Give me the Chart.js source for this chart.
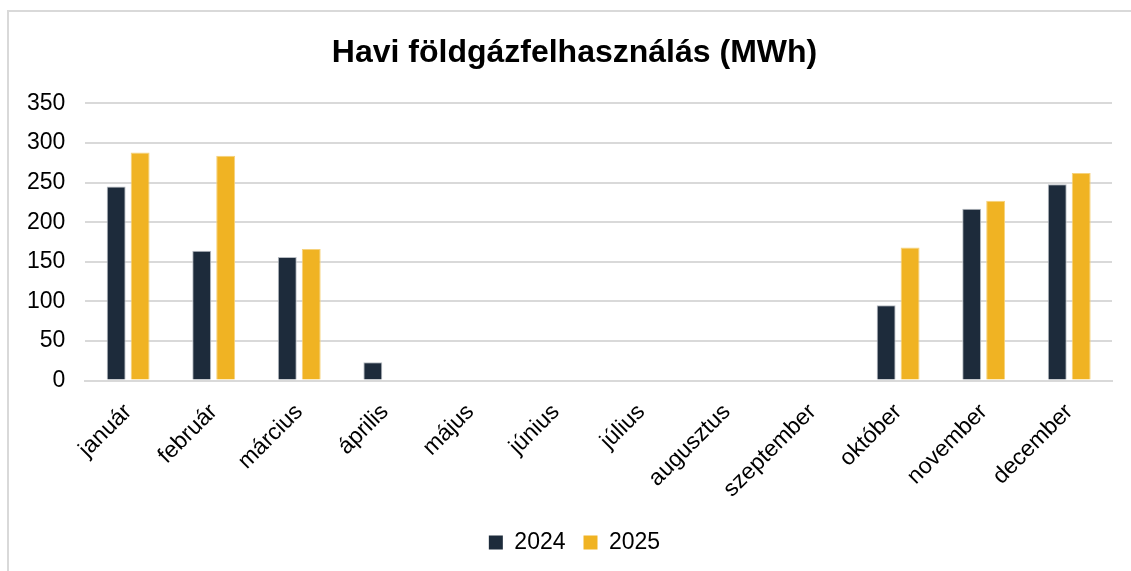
<!DOCTYPE html>
<html>
<head>
<meta charset="utf-8">
<script src="https://cdn.jsdelivr.net/npm/chart.js@4"></script>
<style>
  html, body { margin: 0; padding: 0; background: #fff; overflow: hidden; }
  #frame { position: absolute; left: 7px; top: 10px; width: 1200px; height: 600px; border-left: 2px solid #d9d9d9; border-top: 2px solid #d9d9d9; }
  canvas { position: absolute; left: 0; top: 0; }
</style>
</head>
<body>
<div id="frame"></div>
<canvas id="chart" width="1131" height="571"></canvas>
<script>
const months = ["január", "február", "március", "április", "május", "június", "július", "augusztus", "szeptember", "október", "november", "december"];
const gas2024 = [245, 164, 156, 23, null, null, null, null, null, 95, 217, 248];
const gas2025 = [288, 284, 166, null, null, null, null, null, null, 168, 227, 262];
const yTicks = [0, 50, 100, 150, 200, 250, 300, 350];

const font = "'Liberation Sans', Arial, sans-serif";
const ctx = document.getElementById("chart").getContext("2d");

// title and legend sit a bit right of the canvas centre in the original
const nudgeBlocks = {
  id: "nudgeBlocks",
  afterLayout(chart) {
    const shift = 15;
    for (const block of [chart.titleBlock, chart.legend]) {
      if (!block) continue;
      block.left += shift;
      block.right += shift;
    }
  }
};

new Chart(ctx, {
  type: "bar",
  data: {
    labels: months,
    datasets: [
      {
        label: "2024",
        data: gas2024,
        backgroundColor: "#1d2b3b",
        borderColor: "#b7bcc2",
        borderWidth: 1,
        categoryPercentage: 0.56,
        barPercentage: 0.79
      },
      {
        label: "2025",
        data: gas2025,
        backgroundColor: "#f0b323",
        borderColor: "#f6d27c",
        borderWidth: 1,
        categoryPercentage: 0.56,
        barPercentage: 0.79
      }
    ]
  },
  plugins: [nudgeBlocks],
  options: {
    responsive: false,
    animation: false,
    layout: { padding: { left: 7, right: 19, top: 29, bottom: 7 } },
    plugins: {
      title: {
        display: true,
        text: "Havi földgázfelhasználás (MWh)",
        color: "#000",
        font: { family: font, size: 32, weight: "bold" },
        padding: { top: 5, bottom: 31 }
      },
      legend: {
        position: "bottom",
        labels: {
          color: "#000",
          font: { family: font, size: 23 },
          boxWidth: 14,
          boxHeight: 14,
          padding: 18,
          generateLabels: (chart) => chart.data.datasets.map((ds, i) => ({
            text: ds.label,
            fillStyle: ds.backgroundColor,
            strokeStyle: ds.backgroundColor,
            lineWidth: 0,
            datasetIndex: i
          }))
        }
      },
      tooltip: { enabled: false }
    },
    scales: {
      x: {
        grid: { display: false },
        border: { color: "#d9d9d9", width: 2 },
        ticks: {
          color: "#000",
          font: { family: font, size: 23 },
          maxRotation: 45,
          minRotation: 45,
          autoSkip: false,
          padding: 10
        }
      },
      y: {
        min: 0,
        max: 350,
        afterBuildTicks: (axis) => { axis.ticks = yTicks.map(v => ({ value: v })); },
        grid: { color: "#d9d9d9", lineWidth: 2, drawTicks: false },
        border: { display: false },
        ticks: {
          color: "#000",
          font: { family: font, size: 23 },
          padding: 20
        }
      }
    }
  }
});
</script>
</body>
</html>
